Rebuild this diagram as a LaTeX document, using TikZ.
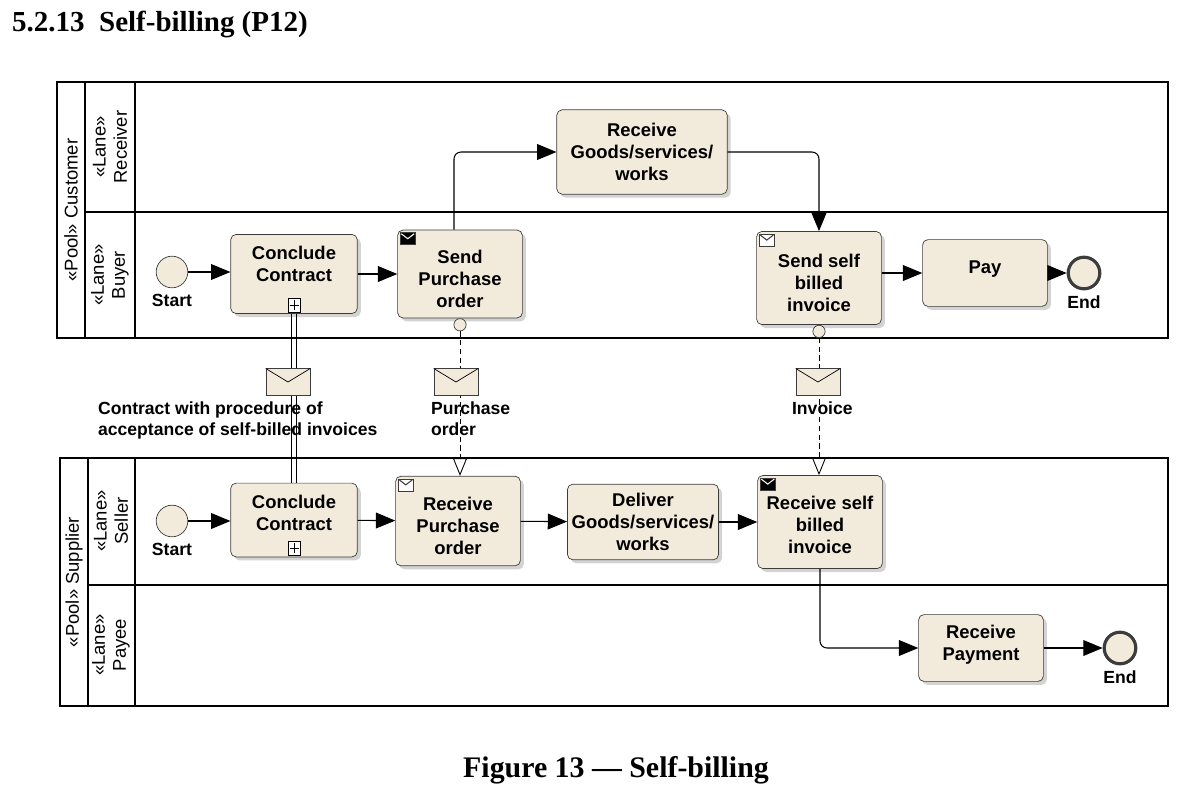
\documentclass[tikz,border=0pt]{standalone}
\usepackage{fontspec}
\setmainfont{Liberation Sans}
\newfontfamily\capfont{Liberation Serif}
\usetikzlibrary{positioning,arrows.meta,shadows,calc}
\definecolor{taskfill}{RGB}{242,235,220}
\definecolor{taskedge}{RGB}{60,60,60}
\tikzset{
  task/.style={draw=taskedge, rounded corners=3pt, fill=taskfill, drop shadow={opacity=0.35, shadow xshift=2pt, shadow yshift=-2pt}, inner sep=0pt},
  txt/.style={align=center, font=\bfseries\fontsize{10.5}{12.5}\selectfont, inner sep=0pt},
  event/.style={circle, draw=taskedge, fill=taskfill, minimum size=18pt, inner sep=0pt},
  endevent/.style={event, line width=1.8pt},
  lbl/.style={font=\bfseries\fontsize{10}{12}\selectfont, inner sep=1pt},
  lane/.style={rotate=90, align=center, font=\fontsize{10.5}{12}\selectfont, inner sep=0pt},
  flow/.style={-{Triangle[length=11pt,width=9pt]}, line width=0.6pt, rounded corners=4pt},
  msg/.style={densely dashed, line width=0.5pt, -{Triangle[open,length=10pt,width=8pt]}},
  env/.style={draw=taskedge, fill=taskfill, minimum width=25pt, minimum height=15pt, inner sep=0pt},
}
\newcommand{\envmark}[3]{% corner, fill, line colour
  \draw[fill=#2, draw=taskedge, line width=0.4pt] (#1) rectangle ++(15,12);
  \draw[line width=0.6pt, draw=#3] ($(#1)+(1,1)$) -- ++(6.5,5) -- ++(6.5,-5);}
\begin{document}
\begin{tikzpicture}[x=0.02cm,y=-0.02cm]
\useasboundingbox (0,0) rectangle (1188,802);
% title and caption
\node[anchor=west, font=\capfont\bfseries\fontsize{16.5}{18}\selectfont] (title) at (6,24) {5.2.13\ \ Self-billing (P12)};
\node[font=\capfont\bfseries\fontsize{17}{19}\selectfont] (caption) at (616,770) {Figure 13 — Self-billing};
% pools and lanes
\draw[line width=0.6pt] (57,82) rectangle (1168,338);
\draw[line width=0.6pt] (85,82) -- (85,338) (135,82) -- (135,338) (85,212) -- (1168,212);
\draw[line width=0.6pt] (60,458) rectangle (1168,706);
\draw[line width=0.6pt] (88,458) -- (88,706) (135,458) -- (135,706) (88,585) -- (1168,585);
\node[lane] (pcust) at (71,210) {«Pool» Customer};
\node[lane] (lrecv) at (110,147) {«Lane»\\Receiver};
\node[lane] (lbuy) at (110,275) {«Lane»\\Buyer};
\node[lane] (psupp) at (74,582) {«Pool» Supplier};
\node[lane] (lsell) at (111,521) {«Lane»\\Seller};
\node[lane] (lpay) at (111,645) {«Lane»\\Payee};
% customer
\node[event] (bstart) at (172,272) {};
\node[lbl, below=2pt of bstart] {Start};
\node[task, minimum width=72pt, minimum height=45pt] (bcon) at (294,274) {};
\node[txt] at (294,264) {Conclude\\Contract};
\node[task, minimum width=71pt, minimum height=50pt] (spo) at (460,274) {};
\node[txt] at (460,279) {Send\\Purchase\\order};
\node[task, minimum width=97pt, minimum height=48pt] (recv) at (642,152) {};
\node[txt] at (642,152) {Receive\\Goods/services/\\works};
\node[task, minimum width=71pt, minimum height=53pt] (ssbi) at (819,278) {};
\node[txt] at (819,283) {Send self\\billed\\invoice};
\node[task, minimum width=71pt, minimum height=38pt] (pay) at (985,273) {};
\node[txt] at (985,269) {Pay};
\node[endevent] (bend) at (1084,273) {};
\node[lbl, below=2pt of bend] {End};
% supplier
\node[event] (sstart) at (172,521) {};
\node[lbl, below=2pt of sstart] {Start};
\node[task, minimum width=72pt, minimum height=42pt] (scon) at (294,520) {};
\node[txt] at (294,513) {Conclude\\Contract};
\node[task, minimum width=71pt, minimum height=51pt] (rpo) at (458,521) {};
\node[txt] at (458,526) {Receive\\Purchase\\order};
\node[task, minimum width=86pt, minimum height=43pt] (deliv) at (643,522) {};
\node[txt] at (643,522) {Deliver\\Goods/services/\\works};
\node[task, minimum width=71pt, minimum height=53pt] (rsbi) at (820,522) {};
\node[txt] at (820,525) {Receive self\\billed\\invoice};
\node[task, minimum width=71pt, minimum height=38pt] (rpay) at (981,648) {};
\node[txt] at (981,645) {Receive\\Payment};
\node[endevent] (send) at (1120,648) {};
\node[lbl, below=2pt of send] {End};
% subprocess markers
\foreach \t in {bcon,scon}{
  \draw[fill=white, line width=0.4pt] ($(\t.south)+(-6,-2)$) rectangle ++(12,-14);
  \draw[line width=0.4pt] ($(\t.south)+(0,-4)$) -- ++(0,-10) ($(\t.south)+(-4.5,-9)$) -- ++(9,0);}
% message markers on tasks
\envmark{$(spo.north west)+(3,3)$}{black}{white}
\envmark{$(ssbi.north west)+(3,3)$}{white}{taskedge}
\envmark{$(rpo.north west)+(3,3)$}{white}{taskedge}
\envmark{$(rsbi.north west)+(3,3)$}{black}{white}
% sequence flows
\draw[flow] (bstart) -- (bstart -| bcon.west);
\draw[flow] (bcon) -- (spo);
\draw[flow] ($(spo.north)+(-6,0)$) |- (recv.west);
\draw[flow] (recv.east) -| (ssbi.north);
\draw[flow] (ssbi.east |- pay) -- (pay);
\draw[flow] (pay) -- (bend);
\draw[flow] (sstart) -- (sstart -| scon.west);
\draw[flow] (scon) -- (rpo);
\draw[flow] (rpo) -- (deliv);
\draw[flow] (deliv) -- (rsbi);
\draw[flow] (rsbi.south) |- (rpay.west);
\draw[flow] (rpay) -- (send);
% contract link (double line)
\draw[line width=0.5pt] ($(bcon.south)+(-2.5,0)$) -- ($(scon.north)+(-2.5,0)$);
\draw[line width=0.5pt] ($(bcon.south)+(2.5,0)$) -- ($(scon.north)+(2.5,0)$);
% message flows
\node[circle, draw=taskedge, fill=taskfill, inner sep=0pt, minimum size=7pt, below=0pt of spo] (spoc) {};
\node[circle, draw=taskedge, fill=taskfill, inner sep=0pt, minimum size=7pt, below=0pt of ssbi] (ssbic) {};
\draw[msg] (spoc) -- (rpo.north -| spoc);
\draw[msg] (ssbic) -- (rsbi.north -| ssbic);
% messages
\node[env] (mcon) at (288,382) {};
\node[env] (mpo) at (456,382) {};
\node[env] (minv) at (818,382) {};
\foreach \m in {mcon,mpo,minv}
  \draw[line width=0.4pt] (\m.north west) -- (\m.center) -- (\m.north east);
\node[lbl, anchor=north west, align=left] (tcon) at (96,400) {Contract with procedure of\\acceptance of self-billed invoices};
\node[lbl, anchor=north west, align=left] (tpo) at (429,400) {Purchase\\order};
\node[lbl, anchor=north west] (tinv) at (790,400) {Invoice};
\end{tikzpicture}
\end{document}
